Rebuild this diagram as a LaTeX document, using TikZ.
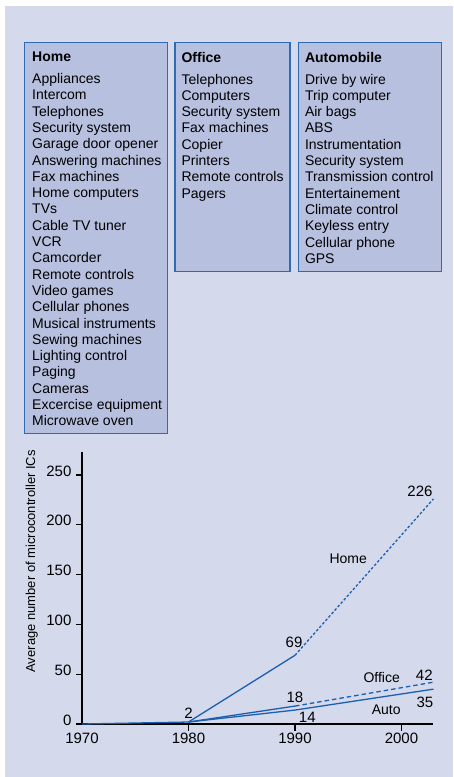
\documentclass[tikz,border=0pt]{standalone}
\usepackage{fontspec}
\setmainfont{Liberation Sans}
\usepackage{tikz}
\usetikzlibrary{positioning}
\definecolor{paper}{RGB}{212,217,236}
\definecolor{panel}{RGB}{184,192,223}
\definecolor{rule}{RGB}{46,107,181}
\definecolor{trend}{RGB}{28,94,176}
\tikzstyle{frame} = [draw=rule, fill=panel, line width=1.4pt, rectangle, anchor=north west]
\tikzstyle{listtext} = [align=left, inner sep=0pt, font=\fontsize{14}{16.3}\selectfont]
\tikzstyle{axis} = [draw=black, line width=1.2pt]
\tikzstyle{trendline} = [draw=trend, line width=1.3pt]
\tikzstyle{num} = [inner sep=0pt, font=\fontsize{15}{18}\selectfont]
\tikzstyle{tag} = [inner sep=0pt, font=\fontsize{14}{17}\selectfont]

\begin{document}
\begin{tikzpicture}[x=1pt, y=-1pt]
  \useasboundingbox (0,0) rectangle (453,777);
  \fill[paper] (5,6) rectangle (453,777);

  % application panels
  \node [frame, minimum width=143pt, minimum height=391pt] (home) at (24,42) {};
  \node [frame, minimum width=115pt, minimum height=229pt, below right=0pt and 6pt of home.north east] (office) {};
  \node [frame, minimum width=143pt, minimum height=229pt, below right=0pt and 7pt of office.north east] (auto) {};

  \node [listtext, below right=10pt and 8pt of home.north west] (homelist) {\textbf{Home}\\[5.4pt]
    Appliances\\ Intercom\\ Telephones\\ Security system\\ Garage door opener\\
    Answering machines\\ Fax machines\\ Home computers\\ TVs\\ Cable TV tuner\\
    VCR\\ Camcorder\\ Remote controls\\ Video games\\ Cellular phones\\
    Musical instruments\\ Sewing machines\\ Lighting control\\ Paging\\
    Cameras\\ Excercise equipment\\ Microwave oven};
  \node [listtext, below right=10pt and 7pt of office.north west] (officelist) {\textbf{Office}\\[5.4pt]
    Telephones\\ Computers\\ Security system\\ Fax machines\\ Copier\\
    Printers\\ Remote controls\\ Pagers};
  \node [listtext, below right=10pt and 7pt of auto.north west] (autolist) {\textbf{Automobile}\\[5.4pt]
    Drive by wire\\ Trip computer\\ Air bags\\ ABS\\ Instrumentation\\
    Security system\\ Transmission control\\ Entertainement\\ Climate control\\
    Keyless entry\\ Cellular phone\\ GPS};

  \node [tag, rotate=90, font=\fontsize{13}{16}\selectfont] (ylabel) at (31.7,561.3) {Average number of microcontroller ICs};

  % chart, x in years since 1970
  \begin{scope}[shift={(82,724)}, x=10.65pt, y=0.996pt]
    \coordinate (start) at (0,0);
    \coordinate (all80) at (10,2);
    \coordinate (home90) at (20,69);
    \coordinate (home03) at (33,226);
    \coordinate (office90) at (20,18);
    \coordinate (office03) at (33,42);
    \coordinate (auto90) at (20,14);
    \coordinate (auto03) at (33,35);

    \draw [axis] (0,273) -- (start) -- (33,0);
    \foreach \v in {0,50,...,250}
      \draw [axis] (0,\v) -- ++(-6pt,0) node [num, anchor=base east, xshift=-4pt, yshift=-1pt] {\v};
    \foreach \t in {10,20,30}
      \draw [axis] (\t,0) -- ++(0,-7pt);
    \foreach \t/\yr in {0/1970,10/1980,20/1990,30/2000}
      \node [num, anchor=north] at ([yshift=-9.3pt]\t,0) {\yr};

    \draw [trendline] (start) -- (all80) -- (home90);
    \draw [trendline, dash pattern=on 2.6pt off 2pt] (home90) -- (home03);
    \draw [trendline] (all80) -- (office90);
    \draw [trendline, dash pattern=on 4.5pt off 3pt] (office90) -- (office03);
    \draw [trendline] (all80) -- (auto90) -- (auto03);

    \node [num] (l2) at ([yshift=8.7pt]all80) {2};
    \node [num] (l69) at ([xshift=-1pt, yshift=13.3pt]home90) {69};
    \node [num] (l18) at ([yshift=9pt]office90) {18};
    \node [num] (l14) at ([xshift=12.3pt, yshift=-7pt]auto90) {14};
    \node [num] (l226) at ([xshift=-13.5pt, yshift=7.2pt]home03) {226};
    \node [num] (l42) at ([xshift=-9.2pt, yshift=7.2pt]office03) {42};
    \node [num] (l35) at ([xshift=-8.5pt, yshift=-13.4pt]auto03) {35};

    \node [tag] (hometag) at (25,165.7) {Home};
    \node [tag] (officetag) at (28.14,47.2) {Office};
    \node [tag] (autotag) at (28.57,14.06) {Auto};
  \end{scope}
\end{tikzpicture}
\end{document}
